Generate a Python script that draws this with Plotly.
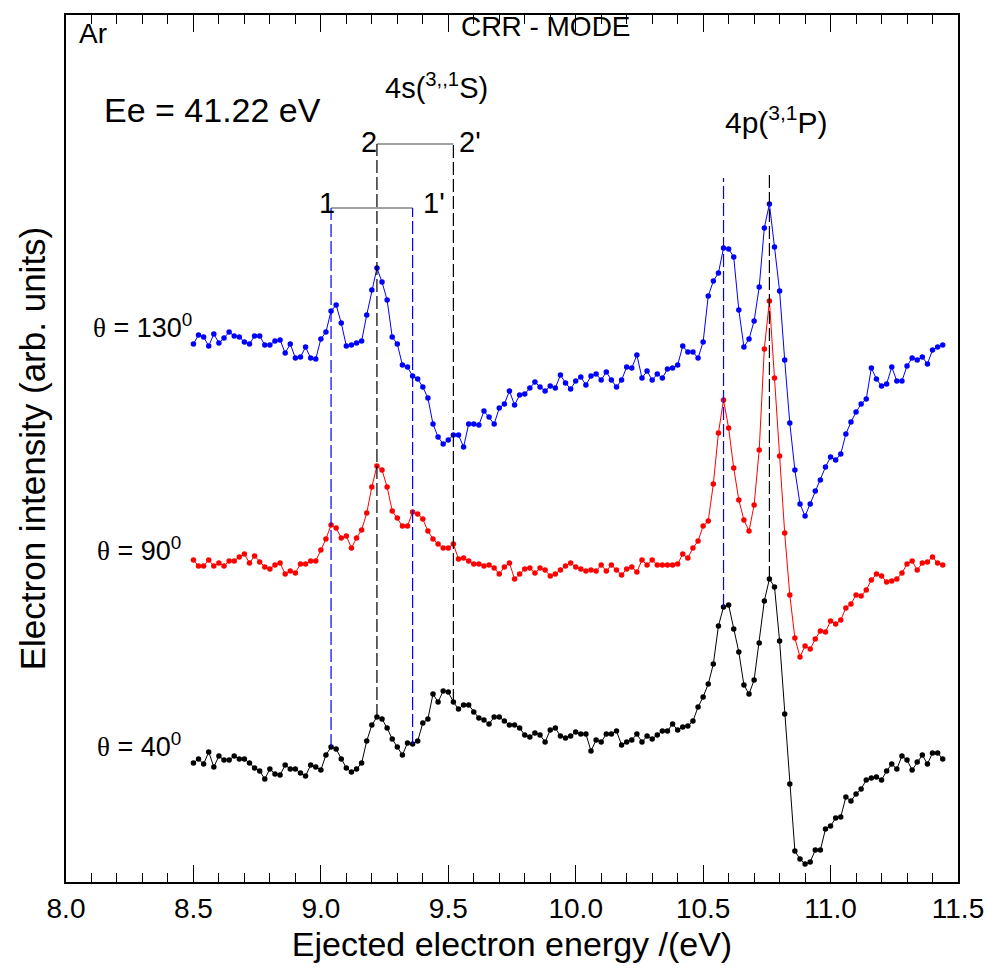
import plotly.graph_objects as go

# Ejected electron energy (eV)
energy = [
    8.50, 8.52, 8.54, 8.56, 8.58, 8.60, 8.62, 8.64, 8.66, 8.68,
    8.70, 8.72, 8.74, 8.76, 8.78, 8.80, 8.82, 8.84, 8.86, 8.88,
    8.90, 8.92, 8.94, 8.96, 8.98, 9.00, 9.02, 9.04, 9.06, 9.08,
    9.10, 9.12, 9.14, 9.16, 9.18, 9.20, 9.22, 9.24, 9.26, 9.28,
    9.30, 9.32, 9.34, 9.36, 9.38, 9.40, 9.42, 9.44, 9.46, 9.48,
    9.50, 9.52, 9.54, 9.56, 9.58, 9.60, 9.62, 9.64, 9.66, 9.68,
    9.70, 9.72, 9.74, 9.76, 9.78, 9.80, 9.82, 9.84, 9.86, 9.88,
    9.90, 9.92, 9.94, 9.96, 9.98, 10.00, 10.02, 10.04, 10.06, 10.08,
    10.10, 10.12, 10.14, 10.16, 10.18, 10.20, 10.22, 10.24, 10.26, 10.28,
    10.30, 10.32, 10.34, 10.36, 10.38, 10.40, 10.42, 10.44, 10.46, 10.48,
    10.50, 10.52, 10.54, 10.56, 10.58, 10.60, 10.62, 10.64, 10.66, 10.68,
    10.70, 10.72, 10.74, 10.76, 10.78, 10.80, 10.82, 10.84, 10.86, 10.88,
    10.90, 10.92, 10.94, 10.96, 10.98, 11.00, 11.02, 11.04, 11.06, 11.08,
    11.10, 11.12, 11.14, 11.16, 11.18, 11.20, 11.22, 11.24, 11.26, 11.28,
    11.30, 11.32, 11.34, 11.36, 11.38, 11.40, 11.42, 11.44,
]

# Electron intensity (arb. units), offset curves
theta_130 = [
    538, 547, 545, 536, 548, 539, 544, 550, 546, 545,
    540, 538, 546, 546, 537, 537, 541, 542, 529, 538,
    524, 525, 535, 524, 523, 543, 550, 571, 577, 559,
    536, 537, 539, 541, 567, 592, 614, 600, 582, 545,
    538, 517, 515, 506, 503, 495, 484, 458, 445, 438,
    442, 447, 447, 435, 458, 458, 457, 471, 465, 458,
    474, 478, 491, 477, 487, 488, 494, 500, 495, 491,
    496, 494, 507, 499, 493, 501, 505, 497, 506, 508,
    502, 510, 502, 495, 502, 515, 514, 527, 504, 511,
    502, 508, 504, 513, 514, 517, 536, 530, 530, 524,
    540, 586, 601, 609, 634, 633, 625, 572, 535, 543,
    561, 595, 654, 678, 635, 591, 522, 459, 412, 378,
    366, 378, 391, 402, 415, 425, 422, 428, 448, 460,
    470, 478, 483, 514, 503, 496, 498, 515, 501, 501,
    516, 524, 522, 525, 518, 532, 535, 537,
]

theta_90 = [
    322, 316, 316, 322, 316, 319, 316, 321, 321, 325,
    328, 319, 326, 320, 315, 313, 317, 319, 308, 311,
    309, 318, 318, 321, 321, 332, 343, 357, 354, 344,
    346, 334, 344, 352, 369, 395, 416, 412, 395, 371,
    364, 356, 356, 370, 368, 363, 351, 343, 338, 334,
    334, 338, 323, 324, 321, 318, 318, 316, 317, 314,
    308, 315, 319, 303, 308, 313, 314, 309, 314, 312,
    306, 308, 312, 316, 319, 315, 313, 311, 312, 311,
    317, 311, 317, 312, 307, 313, 315, 310, 322, 317,
    322, 317, 317, 317, 317, 318, 328, 324, 334, 341,
    356, 361, 398, 449, 482, 454, 414, 382, 362, 351,
    377, 432, 533, 581, 504, 426, 349, 287, 244, 225,
    236, 233, 243, 251, 250, 261, 258, 262, 274, 278,
    287, 286, 292, 302, 308, 306, 300, 301, 303, 309,
    318, 321, 312, 319, 320, 325, 319, 317,
]

theta_40 = [
    119, 123, 118, 130, 115, 126, 122, 122, 126, 123,
    123, 119, 114, 111, 103, 113, 108, 107, 117, 113,
    113, 109, 106, 117, 115, 112, 127, 135, 133, 123,
    114, 110, 113, 119, 141, 157, 165, 163, 154, 143,
    135, 127, 139, 138, 141, 159, 163, 188, 180, 191,
    190, 180, 173, 177, 177, 170, 164, 162, 158, 165,
    165, 161, 157, 157, 154, 147, 145, 149, 147, 140,
    152, 154, 146, 144, 146, 150, 148, 148, 131, 142,
    140, 148, 148, 151, 137, 140, 142, 148, 140, 146,
    143, 147, 151, 151, 158, 152, 155, 156, 161, 175,
    185, 198, 218, 256, 275, 277, 253, 230, 197, 188,
    202, 239, 281, 303, 295, 241, 168, 98, 31, 23,
    18, 20, 32, 32, 53, 56, 64, 65, 85, 81,
    88, 93, 102, 104, 105, 102, 111, 118, 113, 126,
    122, 112, 120, 127, 118, 129, 129, 123,
]

series = [
    ("\u03b8 = 130\u00b0", theta_130, "#0000ff"),
    ("\u03b8 = 90\u00b0", theta_90, "#ff0000"),
    ("\u03b8 = 40\u00b0", theta_40, "#000000"),
]

# Peak markers: (energy, colour, top of the dashed line)
peak_lines = [
    (9.04, "#0000ff", 674),
    (9.22, "#000000", 738),
    (9.36, "#0000ff", 674),
    (9.52, "#000000", 738),
    (10.58, "#0000ff", 704),
    (10.76, "#000000", 707),
]

tick_vals = [8.0, 8.5, 9.0, 9.5, 10.0, 10.5, 11.0, 11.5]
tick_text = ["8.0", "8.5", "9.0", "9.5", "10.0", "10.5", "11.0", "11.5"]

fig = go.Figure()
for name, vals, col in series:
    fig.add_trace(go.Scatter(
        x=energy, y=vals, mode="lines+markers", name=name,
        line=dict(color=col, width=1),
        marker=dict(color=col, size=5.5),
        showlegend=False,
    ))
# empty trace so the top (mirrored) tick axis is drawn
fig.add_trace(go.Scatter(x=[], y=[], xaxis="x2", yaxis="y", showlegend=False, hoverinfo="skip"))

shapes = []
for e, col, top in peak_lines:
    idx = min(range(len(energy)), key=lambda k: abs(energy[k] - e))
    shapes.append(dict(type="line", xref="x", yref="y", x0=e, x1=e,
                       y0=theta_40[idx], y1=top,
                       line=dict(color=col, width=1.2, dash="13px,4px"),
                       layer="above"))
# brackets
shapes.append(dict(type="line", xref="x", yref="y", x0=9.22, x1=9.52, y0=738, y1=738,
                   line=dict(color="#444444", width=1)))
shapes.append(dict(type="line", xref="x", yref="y", x0=9.04, x1=9.36, y0=674, y1=674,
                   line=dict(color="#444444", width=1)))

FONT = "Liberation Sans, Arial, sans-serif"
TH = "<span style='font-family:Liberation Serif, DejaVu Serif, serif'>\u03b8</span>"

def ann(x, y, text, size, xanchor="left"):
    return dict(x=x, y=y, xref="x", yref="y", text=text, showarrow=False,
                xanchor=xanchor, yanchor="middle",
                font=dict(family=FONT, size=size, color="#000"))

annotations = [
    ann(8.045, 849, "Ar", 28),
    ann(9.541, 856, "CRR - MODE", 28),
    ann(9.245, 796, "4s(<sup>3,,1</sup>S)", 29),
    ann(8.140, 772, "Ee = 41.22 eV", 34),
    ann(9.150, 740, "2", 29),
    ann(9.534, 740, "2'", 29),
    ann(8.985, 679, "1", 29),
    ann(9.394, 679, "1'", 29),
    ann(10.578, 762, "4p(<sup>3,1</sup>P)", 30),
    ann(8.100, 556, TH + " = 130<sup>0</sup>", 27),
    ann(8.112, 333, TH + " = 90<sup>0</sup>", 27),
    ann(8.112, 137, TH + " = 40<sup>0</sup>", 27),
]

fig.update_layout(
    width=987, height=972,
    margin=dict(l=66, r=29, t=15, b=90),
    paper_bgcolor="white", plot_bgcolor="white",
    font=dict(family=FONT, color="#000"),
    shapes=shapes, annotations=annotations,
    xaxis=dict(
        range=[8.0, 11.5], tickmode="array", automargin=False,
        tickvals=tick_vals, ticktext=tick_text,
        ticks="inside", ticklen=17, tickwidth=1, tickcolor="#000",
        minor=dict(dtick=0.1, ticks="inside", ticklen=9, tickwidth=1, tickcolor="#000"),
        showline=True, linecolor="#000", linewidth=2, mirror=True,
        showgrid=False, zeroline=False,
        tickfont=dict(size=28, family=FONT),
        title=dict(text="Ejected electron energy /(eV)", font=dict(size=34, family=FONT), standoff=10),
    ),
    xaxis2=dict(
        range=[8.0, 11.5], overlaying="x", side="top", anchor="y", automargin=False,
        tickmode="array", tickvals=tick_vals, showticklabels=False,
        ticks="inside", ticklen=17, tickwidth=1, tickcolor="#000",
        minor=dict(dtick=0.1, ticks="inside", ticklen=9, tickwidth=1, tickcolor="#000"),
        showline=False, showgrid=False, zeroline=False,
    ),
    yaxis=dict(
        range=[0, 867], showticklabels=False, ticks="", automargin=False,
        showline=True, linecolor="#000", linewidth=2, mirror=True,
        showgrid=False, zeroline=False,
        title=dict(text="Electron intensity (arb. units)", font=dict(size=35, family=FONT), standoff=8),
    ),
)

fig.write_html("out.html")
